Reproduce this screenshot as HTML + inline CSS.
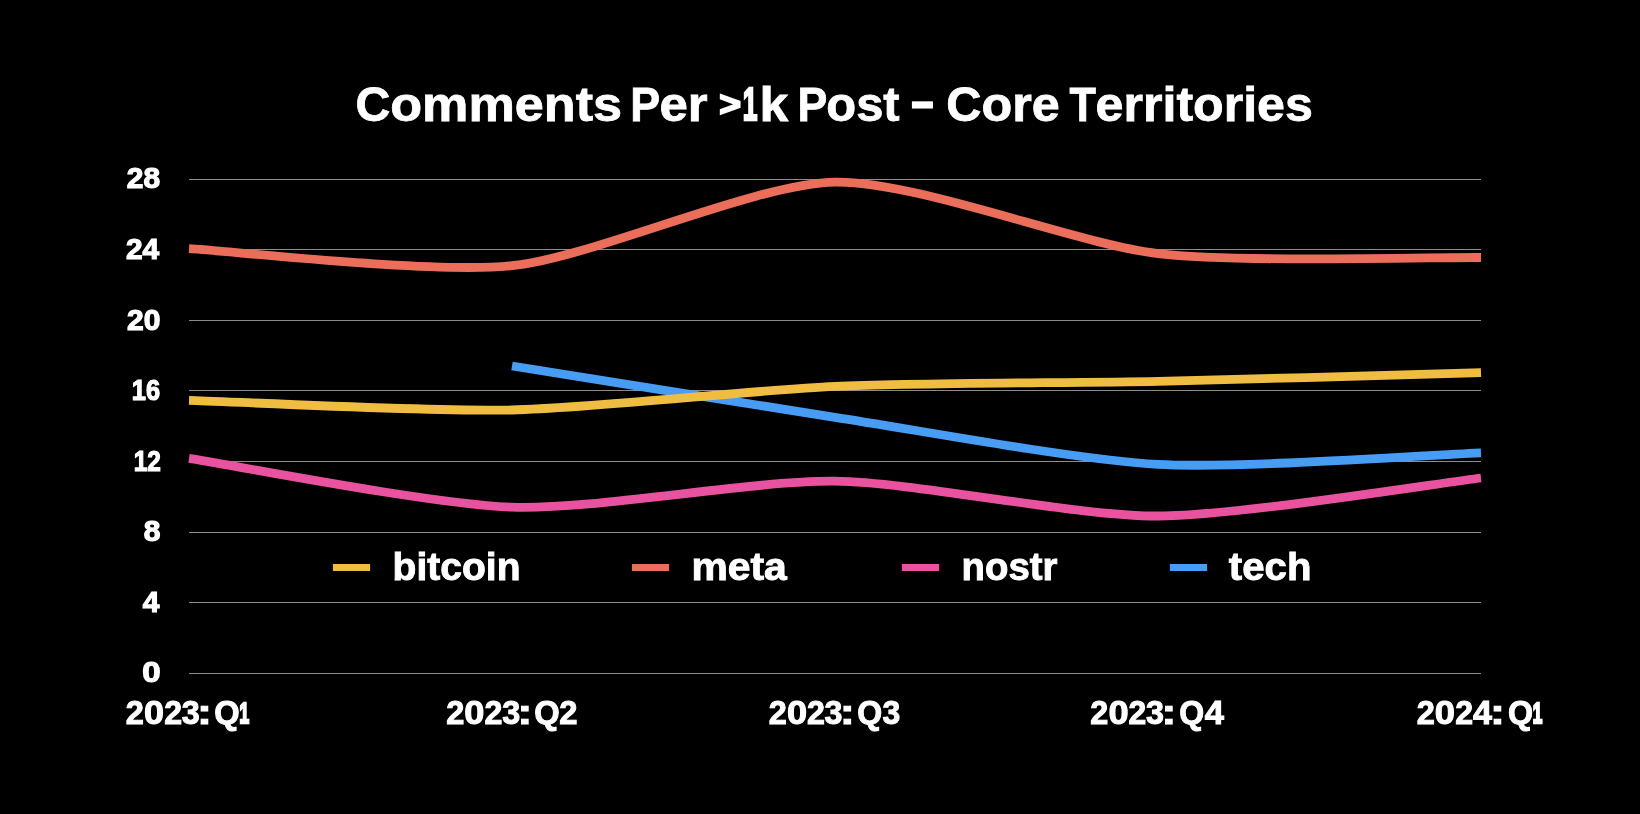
<!DOCTYPE html><html><head><meta charset="utf-8"><title>Comments Per &gt;1k Post - Core Territories</title><style>html,body{margin:0;padding:0;background:#000;overflow:hidden}svg{display:block;will-change:transform}text{font-family:'Liberation Sans',Arial,sans-serif;font-weight:bold;fill:#fff;stroke:#fff}</style></head><body>
<svg width="1640" height="814" viewBox="0 0 1640 814">
<rect width="1640" height="814" fill="#000"/>
<text x="126.87" y="187.90" font-size="29.2" stroke-width="1.2" textLength="33.26" lengthAdjust="spacingAndGlyphs">28</text>
<text x="126.00" y="258.90" font-size="29.2" stroke-width="1.2" textLength="33.24" lengthAdjust="spacingAndGlyphs">24</text>
<text x="127.10" y="329.60" font-size="29.2" stroke-width="1.2" textLength="33.35" lengthAdjust="spacingAndGlyphs">20</text>
<text x="131.86" y="399.90" font-size="29.2" stroke-width="1.2" textLength="28.24" lengthAdjust="spacingAndGlyphs">16</text>
<text x="133.79" y="470.90" font-size="29.2" stroke-width="1.2" textLength="27.17" lengthAdjust="spacingAndGlyphs">12</text>
<text x="143.67" y="541.20" font-size="29.2" stroke-width="1.2" textLength="16.68" lengthAdjust="spacingAndGlyphs">8</text>
<text x="142.86" y="611.90" font-size="29.2" stroke-width="1.2" textLength="16.59" lengthAdjust="spacingAndGlyphs">4</text>
<text x="142.21" y="681.50" font-size="29.2" stroke-width="1.2" textLength="18.36" lengthAdjust="spacingAndGlyphs">0</text>
<text x="392.58" y="580.10" font-size="38" stroke-width="0.9" textLength="127.89" lengthAdjust="spacingAndGlyphs">bitcoin</text>
<text x="691.40" y="580.10" font-size="38" stroke-width="0.9" textLength="95.44" lengthAdjust="spacingAndGlyphs">meta</text>
<text x="961.62" y="580.10" font-size="38" stroke-width="0.9" textLength="95.80" lengthAdjust="spacingAndGlyphs">nostr</text>
<text x="1228.86" y="580.10" font-size="38" stroke-width="0.9" textLength="82.57" lengthAdjust="spacingAndGlyphs">tech</text>
<text><tspan x="355.40" y="121.10" font-size="47.6" stroke-width="0.8" textLength="34.84" lengthAdjust="spacingAndGlyphs">C</tspan><tspan x="390.28" y="121.10" font-size="48.7" stroke-width="0.8" textLength="231.81" lengthAdjust="spacingAndGlyphs">omments</tspan> <tspan x="630.35" y="121.10" font-size="47.6" stroke-width="0.8" textLength="29.83" lengthAdjust="spacingAndGlyphs">P</tspan><tspan x="659.51" y="121.10" font-size="48.7" stroke-width="0.8" textLength="48.21" lengthAdjust="spacingAndGlyphs">er</tspan> <tspan x="719.30" y="115.60" font-size="34.5" stroke-width="1.8" textLength="21.82" lengthAdjust="spacingAndGlyphs">&gt;</tspan><tspan x="742.76" y="119.90" font-size="46.2" stroke-width="2.4" textLength="14.69" lengthAdjust="spacingAndGlyphs">1</tspan><tspan x="759.41" y="121.10" font-size="47.5" stroke-width="0.8" textLength="28.73" lengthAdjust="spacingAndGlyphs">k</tspan> <tspan x="797.50" y="121.10" font-size="47.6" stroke-width="0.8" textLength="29.76" lengthAdjust="spacingAndGlyphs">P</tspan><tspan x="826.31" y="121.10" font-size="48.7" stroke-width="0.8" textLength="73.34" lengthAdjust="spacingAndGlyphs">ost</tspan> <tspan x="909.46" y="118.20" font-size="52" stroke-width="0.8" textLength="25.94" lengthAdjust="spacingAndGlyphs">-</tspan> <tspan x="946.36" y="121.10" font-size="47.6" stroke-width="0.8" textLength="35.22" lengthAdjust="spacingAndGlyphs">C</tspan><tspan x="981.51" y="121.10" font-size="48.7" stroke-width="0.8" textLength="78.26" lengthAdjust="spacingAndGlyphs">ore</tspan> <tspan x="1069.41" y="121.10" font-size="47.6" stroke-width="0.8" textLength="26.46" lengthAdjust="spacingAndGlyphs">T</tspan><tspan x="1095.61" y="121.10" font-size="48.7" stroke-width="0.8" textLength="217.19" lengthAdjust="spacingAndGlyphs">erritories</tspan></text>
<text><tspan x="125.85" y="724.00" font-size="33.1" stroke-width="1.0" textLength="18.12" lengthAdjust="spacingAndGlyphs">2</tspan><tspan x="143.92" y="724.00" font-size="33.1" stroke-width="1.0" textLength="20.00" lengthAdjust="spacingAndGlyphs">0</tspan><tspan x="164.19" y="724.00" font-size="33.1" stroke-width="1.0" textLength="17.87" lengthAdjust="spacingAndGlyphs">2</tspan><tspan x="181.86" y="724.00" font-size="33.1" stroke-width="1.0" textLength="18.01" lengthAdjust="spacingAndGlyphs">3</tspan><tspan x="196.99" y="724.00" font-size="35.5" stroke-width="1.0" textLength="14.91" lengthAdjust="spacingAndGlyphs">:</tspan> <tspan x="214.25" y="724.00" font-size="33.1" stroke-width="1.0" textLength="25.38" lengthAdjust="spacingAndGlyphs">Q</tspan><tspan x="239.43" y="722.70" font-size="29" stroke-width="2.6" textLength="9.62" lengthAdjust="spacingAndGlyphs">1</tspan></text>
<text><tspan x="446.21" y="724.00" font-size="33.1" stroke-width="1.0" textLength="18.12" lengthAdjust="spacingAndGlyphs">2</tspan><tspan x="464.32" y="724.00" font-size="33.1" stroke-width="1.0" textLength="20.13" lengthAdjust="spacingAndGlyphs">0</tspan><tspan x="484.55" y="724.00" font-size="33.1" stroke-width="1.0" textLength="17.92" lengthAdjust="spacingAndGlyphs">2</tspan><tspan x="502.17" y="724.00" font-size="33.1" stroke-width="1.0" textLength="18.01" lengthAdjust="spacingAndGlyphs">3</tspan><tspan x="517.18" y="724.00" font-size="35.5" stroke-width="1.0" textLength="15.17" lengthAdjust="spacingAndGlyphs">:</tspan> <tspan x="534.25" y="724.00" font-size="33.1" stroke-width="1.0" textLength="25.38" lengthAdjust="spacingAndGlyphs">Q</tspan><tspan x="559.37" y="724.00" font-size="33.1" stroke-width="1.0" textLength="18.22" lengthAdjust="spacingAndGlyphs">2</tspan></text>
<text><tspan x="768.67" y="724.00" font-size="33.1" stroke-width="1.0" textLength="18.02" lengthAdjust="spacingAndGlyphs">2</tspan><tspan x="787.02" y="724.00" font-size="33.1" stroke-width="1.0" textLength="20.10" lengthAdjust="spacingAndGlyphs">0</tspan><tspan x="806.96" y="724.00" font-size="33.1" stroke-width="1.0" textLength="17.92" lengthAdjust="spacingAndGlyphs">2</tspan><tspan x="824.59" y="724.00" font-size="33.1" stroke-width="1.0" textLength="17.94" lengthAdjust="spacingAndGlyphs">3</tspan><tspan x="839.72" y="724.00" font-size="35.5" stroke-width="1.0" textLength="15.06" lengthAdjust="spacingAndGlyphs">:</tspan> <tspan x="857.20" y="724.00" font-size="33.1" stroke-width="1.0" textLength="24.91" lengthAdjust="spacingAndGlyphs">Q</tspan><tspan x="882.46" y="724.00" font-size="33.1" stroke-width="1.0" textLength="17.81" lengthAdjust="spacingAndGlyphs">3</tspan></text>
<text><tspan x="1090.36" y="724.00" font-size="33.1" stroke-width="1.0" textLength="18.02" lengthAdjust="spacingAndGlyphs">2</tspan><tspan x="1108.47" y="724.00" font-size="33.1" stroke-width="1.0" textLength="20.13" lengthAdjust="spacingAndGlyphs">0</tspan><tspan x="1128.57" y="724.00" font-size="33.1" stroke-width="1.0" textLength="17.77" lengthAdjust="spacingAndGlyphs">2</tspan><tspan x="1146.08" y="724.00" font-size="33.1" stroke-width="1.0" textLength="17.99" lengthAdjust="spacingAndGlyphs">3</tspan><tspan x="1161.31" y="724.00" font-size="35.5" stroke-width="1.0" textLength="15.19" lengthAdjust="spacingAndGlyphs">:</tspan> <tspan x="1179.20" y="724.00" font-size="33.1" stroke-width="1.0" textLength="24.91" lengthAdjust="spacingAndGlyphs">Q</tspan><tspan x="1204.73" y="724.00" font-size="33.1" stroke-width="1.0" textLength="19.19" lengthAdjust="spacingAndGlyphs">4</tspan></text>
<text><tspan x="1416.85" y="724.00" font-size="33.1" stroke-width="1.0" textLength="18.12" lengthAdjust="spacingAndGlyphs">2</tspan><tspan x="1434.85" y="724.00" font-size="33.1" stroke-width="1.0" textLength="20.18" lengthAdjust="spacingAndGlyphs">0</tspan><tspan x="1455.19" y="724.00" font-size="33.1" stroke-width="1.0" textLength="17.87" lengthAdjust="spacingAndGlyphs">2</tspan><tspan x="1473.13" y="724.00" font-size="33.1" stroke-width="1.0" textLength="18.98" lengthAdjust="spacingAndGlyphs">4</tspan><tspan x="1489.99" y="724.00" font-size="35.5" stroke-width="1.0" textLength="14.91" lengthAdjust="spacingAndGlyphs">:</tspan> <tspan x="1508.02" y="724.00" font-size="33.1" stroke-width="1.0" textLength="25.06" lengthAdjust="spacingAndGlyphs">Q</tspan><tspan x="1532.66" y="722.70" font-size="29" stroke-width="2.6" textLength="9.49" lengthAdjust="spacingAndGlyphs">1</tspan></text>
<rect x="189" y="179" width="1292" height="1" fill="#8c8c8c"/>
<rect x="189" y="249" width="1292" height="1" fill="#8c8c8c"/>
<rect x="189" y="320" width="1292" height="1" fill="#8c8c8c"/>
<rect x="189" y="390" width="1292" height="1" fill="#8c8c8c"/>
<rect x="189" y="461" width="1292" height="1" fill="#8c8c8c"/>
<rect x="189" y="532" width="1292" height="1" fill="#8c8c8c"/>
<rect x="189" y="602" width="1292" height="1" fill="#8c8c8c"/>
<rect x="189" y="673" width="1292" height="1" fill="#8c8c8c"/>
<rect x="332.9" y="564" width="37.2" height="7" fill="#F0BD43"/>
<rect x="631.9" y="564" width="37.2" height="7" fill="#EA6E59"/>
<rect x="901.9" y="564" width="37.2" height="7" fill="#E8529F"/>
<rect x="1169.9" y="564" width="37.2" height="7" fill="#479CF4"/>
<path d="M512.00,366.00 C552.38,372.41 754.25,405.00 835.00,417.30 C915.75,429.60 1077.25,459.95 1158.00,464.40 C1238.75,468.85 1440.62,454.34 1481.00,452.90" fill="none" stroke="#479CF4" stroke-width="8.8" stroke-linecap="butt" stroke-linejoin="round"/>
<path d="M189.00,458.40 C229.38,464.50 431.25,504.35 512.00,507.20 C592.75,510.05 754.25,480.10 835.00,481.20 C915.75,482.30 1077.25,516.40 1158.00,516.00 C1238.75,515.60 1440.62,482.75 1481.00,478.00" fill="none" stroke="#E8529F" stroke-width="8.8" stroke-linecap="butt" stroke-linejoin="round"/>
<path d="M189.00,248.60 C229.38,250.74 431.25,274.01 512.00,265.70 C592.75,257.39 754.25,183.61 835.00,182.10 C915.75,180.59 1077.25,244.17 1158.00,253.60 C1238.75,263.02 1440.62,257.01 1481.00,257.50" fill="none" stroke="#EA6E59" stroke-width="8.8" stroke-linecap="butt" stroke-linejoin="round"/>
<path d="M189.00,400.35 C229.38,401.56 431.25,411.74 512.00,410.00 C592.75,408.26 754.25,389.99 835.00,386.40 C915.75,382.81 1077.25,383.01 1158.00,381.30 C1238.75,379.59 1440.62,373.77 1481.00,372.70" fill="none" stroke="#F0BD43" stroke-width="8.8" stroke-linecap="butt" stroke-linejoin="round"/>
</svg></body></html>
